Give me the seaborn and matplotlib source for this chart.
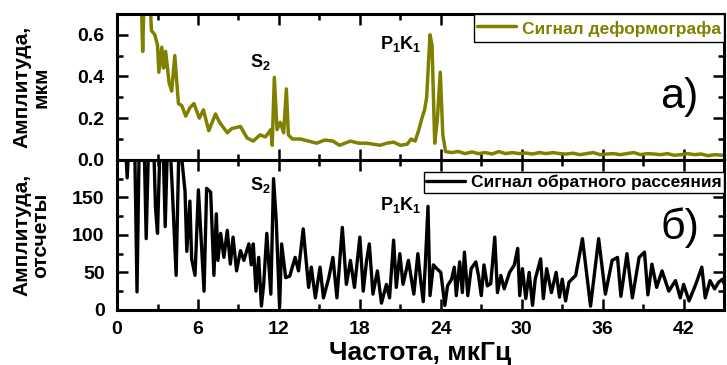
import numpy as np
import pandas as pd
import matplotlib
matplotlib.use("Agg")
import matplotlib.pyplot as plt
from matplotlib.ticker import MultipleLocator
import seaborn as sns

# --- deformograph spectrum (top); values > 0.7 run off the axes
freq_top = [1.75, 1.9, 2.05, 2.35, 2.55, 2.8, 3.0, 3.1, 3.32, 3.45, 3.6, 3.86, 4.05, 4.28,
            4.55, 4.8, 5.09, 5.4, 5.7, 6.1, 6.4, 6.8, 7.3, 7.6, 8.17, 8.5, 9.15, 9.64,
            10.1, 10.6, 11.0, 11.4, 11.5, 11.66, 11.86, 12.1, 12.35, 12.55, 12.7, 13.0,
            13.6, 14.2, 14.8, 15.4, 16.0, 16.5, 17.3, 17.9, 18.5, 19.0, 19.5, 20.0, 20.5,
            21.0, 21.5, 21.8, 22.1, 22.4, 22.6, 22.8, 22.95, 23.2, 23.35, 23.55, 23.75,
            23.96, 24.15, 24.35, 24.8, 25.3, 25.8, 26.3, 26.8, 27.3, 27.8, 28.3, 28.8,
            29.3, 29.8, 30.3, 30.8, 31.3, 31.8, 32.3, 32.8, 33.3, 33.8, 34.3, 34.8, 35.3,
            35.8, 36.3, 36.8, 37.3, 37.8, 38.3, 38.8, 39.3, 39.8, 40.3, 40.8, 41.3, 41.8,
            42.3, 42.8, 43.3, 43.8, 44.3, 44.9]
amp_top = [0.9, 0.52, 0.9, 0.9, 0.62, 0.6, 0.55, 0.42, 0.54, 0.44, 0.52, 0.37, 0.33, 0.5,
           0.27, 0.26, 0.21, 0.25, 0.27, 0.2, 0.24, 0.14, 0.22, 0.18, 0.13, 0.15, 0.16, 0.105,
           0.09, 0.12, 0.11, 0.145, 0.07, 0.395, 0.145, 0.18, 0.13, 0.34, 0.12, 0.1,
           0.1, 0.09, 0.08, 0.095, 0.09, 0.07, 0.09, 0.08, 0.08, 0.075, 0.07, 0.08, 0.085,
           0.07, 0.075, 0.1, 0.09, 0.15, 0.2, 0.24, 0.3, 0.6, 0.55, 0.08, 0.2,
           0.42, 0.12, 0.04, 0.035, 0.04, 0.03, 0.038, 0.03, 0.035, 0.028, 0.04, 0.03,
           0.035, 0.03, 0.033, 0.028, 0.035, 0.03, 0.035, 0.03, 0.028, 0.032, 0.025, 0.03, 0.035,
           0.025, 0.028, 0.03, 0.025, 0.03, 0.035, 0.025, 0.03, 0.028, 0.025, 0.03, 0.022, 0.025,
           0.03, 0.025, 0.028, 0.02, 0.025, 0.022]

# --- backscatter signal spectrum (bottom); values > 200 run off the axes
freq_bot = [0.6, 0.75, 0.9, 1.3, 1.48, 1.65, 2.0, 2.16, 2.35, 2.7, 2.85, 3.0, 3.2, 3.4, 3.57,
            3.75, 3.9, 4.1, 4.38, 4.6, 4.75, 5.04, 5.17, 5.4, 5.53, 5.78, 6.03, 6.25, 6.45,
            6.64, 6.94, 7.18, 7.36, 7.48, 7.68, 7.92, 8.17, 8.4, 8.6, 8.86, 9.15, 9.4, 9.77,
            9.95, 10.1, 10.3, 10.5, 10.7, 10.87, 11.1, 11.4, 11.6, 11.8, 12.05, 12.2, 12.5,
            12.8, 13.2, 13.45, 13.8, 14.2, 14.4, 14.7, 15.05, 15.3, 15.7, 16.0, 16.3, 16.7,
            17.0, 17.3, 17.6, 18.0, 18.25, 18.5, 18.7, 18.97, 19.3, 19.6, 19.97, 20.2, 20.5,
            20.7, 20.96, 21.2, 21.6, 22.0, 22.3, 22.5, 22.7, 22.85, 23.05, 23.2, 23.45, 23.7,
            24.0, 24.3, 24.5, 24.8, 25.0, 25.15, 25.4, 25.6, 25.75, 26.0, 26.25, 26.6, 26.8,
            27.0, 27.2, 27.45, 27.7, 28.0, 28.2, 28.45, 28.7, 29.1, 29.45, 29.7, 29.85, 30.05,
            30.3, 30.55, 30.8, 31.0, 31.4, 31.6, 31.85, 32.2, 32.55, 32.8, 33.0, 33.25, 33.5,
            34.0, 34.5, 35.1, 35.7, 36.2, 36.7, 37.1, 37.35, 37.8, 38.2, 38.7, 39.1, 39.35,
            39.65, 40.0, 40.4, 40.9, 41.4, 41.75, 42.0, 42.4, 42.9, 43.35, 43.6, 43.96, 44.3,
            44.6, 44.9, 45.0]
amp_bot = [230, 176, 230, 230, 24, 230, 230, 95, 230, 230, 136, 102, 230, 230, 111,
           230, 230, 160, 46, 230, 210, 158, 78, 145, 68, 46, 160, 90, 25,
           162, 157, 46, 128, 66, 102, 70, 106, 61, 97, 52, 79, 66, 88,
           60, 88, 25, 70, 5, 34, 102, 21, 175, 119, 3, 88, 43,
           45, 70, 52, 108, 30, 57, 16, 57, 16, 43, 70, 16, 110,
           34, 66, 30, 97, 25, 66, 88, 21, 52, 9, 34, 16, 93,
           30, 75, 34, 66, 21, 75, 40, 11, 60, 138, 19, 60, 55,
           50, 6, 32, 41, 57, 19, 64, 23, 77, 19, 55, 64, 45,
           19, 60, 32, 35, 97, 23, 46, 28, 50, 60, 82, 19, 55,
           15, 50, 6, 41, 68, 15, 55, 23, 50, 17, 41, 12, 37,
           46, 95, 5, 95, 21, 66, 70, 18, 75, 16, 70, 77, 20,
           61, 30, 52, 25, 39, 16, 34, 12, 34, 57, 16, 39, 28,
           37, 41, 35]

x_ticks = [0, 6, 12, 18, 24, 30, 36, 42]
olive = "#808000"

top = pd.DataFrame({"f": freq_top, "a": amp_top})
bot = pd.DataFrame({"f": freq_bot, "a": amp_bot})

sns.set_style("ticks")
plt.rcParams["font.family"] = ["Liberation Sans", "DejaVu Sans"]
plt.rcParams["font.weight"] = "bold"
plt.rcParams["mathtext.fontset"] = "custom"
plt.rcParams["mathtext.bf"] = "Liberation Sans:bold"
plt.rcParams["mathtext.rm"] = "Liberation Sans:bold"
for key in ("text.color", "axes.labelcolor", "xtick.color", "ytick.color"):
    plt.rcParams[key] = "black"

fig = plt.figure(figsize=(7.27, 3.65), dpi=100)
ax1 = fig.add_axes([0.161, 0.562, 0.835, 0.400])
ax2 = fig.add_axes([0.161, 0.151, 0.835, 0.411])

sns.lineplot(data=top, x="f", y="a", ax=ax1, color=olive, lw=2.5,
             label="Сигнал деформографа")
sns.lineplot(data=bot, x="f", y="a", ax=ax2, color="black", lw=2.4,
             label="Сигнал обратного рассеяния")

for ax in (ax1, ax2):
    ax.set_xlim(0, 45)
    ax.set_xticks(x_ticks)
    ax.xaxis.set_minor_locator(MultipleLocator(3))
    ax.tick_params(which="both", direction="in", top=True, right=True, width=1.8,
                   labelsize=14, color="black", labelcolor="black")
    ax.tick_params(which="major", length=8)
    ax.tick_params(which="minor", length=4.5)
    ax.tick_params(axis="y", pad=9)
    ax.tick_params(axis="x", pad=8)
    for s in ax.spines.values():
        s.set_linewidth(2.2)
        s.set_color("black")
    ax.yaxis.set_label_coords(-0.11, 0.5)

ax1.set_ylim(0, 0.7)
ax1.set_yticks([0.0, 0.2, 0.4, 0.6])
ax1.set_yticklabels(["0.0", "0.2", "0.4", "0.6"], fontweight="bold")
ax1.yaxis.set_minor_locator(MultipleLocator(0.1))
ax1.tick_params(labelbottom=False)
ax1.set_xlabel("")
ax1.set_ylabel("Амплитуда,\nмкм", fontsize=15, fontweight="bold", linespacing=1.0)

ax2.set_ylim(0, 200)
ax2.set_yticks([0, 50, 100, 150])
ax2.set_yticklabels(["0", "50", "100", "150"], fontweight="bold")
ax2.yaxis.set_minor_locator(MultipleLocator(25))
ax2.set_xticklabels([str(t) for t in x_ticks], fontweight="bold")
ax2.set_xlabel("Частота, мкГц", fontsize=19, fontweight="bold", labelpad=2)
ax2.set_ylabel("Амплитуда,\nотсчеты", fontsize=15, fontweight="bold", linespacing=1.0)

leg1 = ax1.legend(loc="upper right", borderaxespad=0, fancybox=False, framealpha=1,
                  edgecolor="black", handlelength=2.2, handleheight=1.5, borderpad=0.2,
                  handletextpad=0.35, prop={"weight": "bold", "size": 12.5})
leg1.get_frame().set_linewidth(1)
for t in leg1.get_texts():
    t.set_color(olive)
leg2 = ax2.legend(loc="upper right", bbox_to_anchor=(1, 0.92), borderaxespad=0,
                  fancybox=False, framealpha=1, edgecolor="black", handlelength=2.2,
                  borderpad=0.15, handletextpad=0.35, prop={"weight": "bold", "size": 12.5})
leg2.get_frame().set_linewidth(1)

ax1.text(10.6, 0.47, r"$\mathbf{S_2}$", fontsize=13, ha="center", va="center")
ax1.text(21.0, 0.555, r"$\mathbf{P_1K_1}$", fontsize=13, ha="center", va="center")
ax1.text(41.7, 0.30, "а)", fontsize=31, fontweight="normal", ha="center", va="center")
ax2.text(10.6, 166, r"$\mathbf{S_2}$", fontsize=13, ha="center", va="center")
ax2.text(21.0, 140, r"$\mathbf{P_1K_1}$", fontsize=13, ha="center", va="center")
ax2.text(41.7, 110, "б)", fontsize=31, fontweight="normal", ha="center", va="center")

fig.savefig("out.png", dpi=100)
